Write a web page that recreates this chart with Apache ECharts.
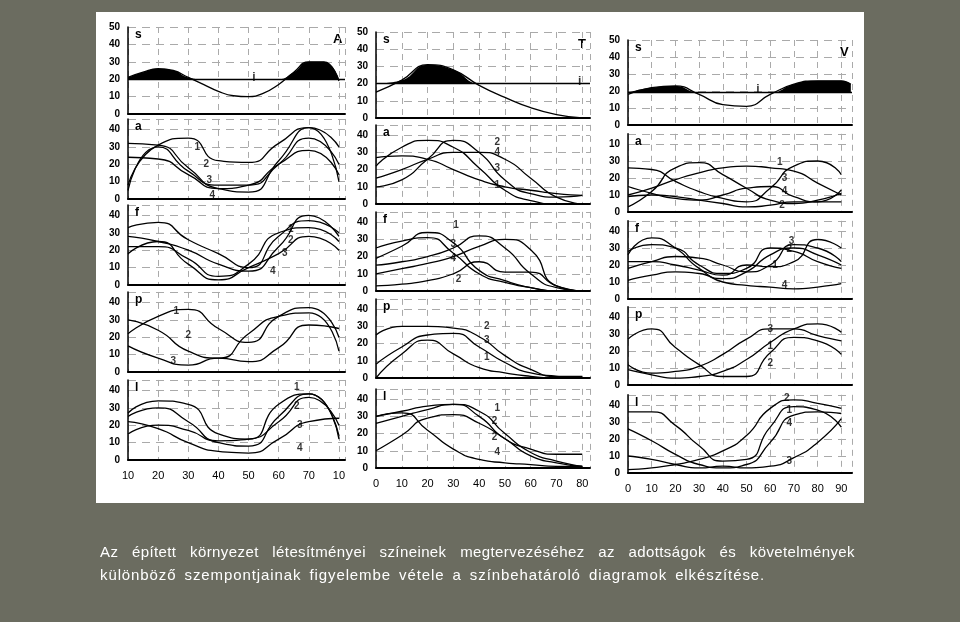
<!DOCTYPE html>
<html><head><meta charset="utf-8">
<script src="https://cdn.jsdelivr.net/npm/echarts@6/dist/echarts.min.js"></script>
<style>
body{margin:0;background:#6b6c60;width:960px;height:622px;overflow:hidden;font-family:"Liberation Sans",Arial,sans-serif;}
#paper{position:absolute;left:96px;top:12px;width:768px;height:491px;background:#fff;}
#c{position:absolute;left:0;top:0;width:960px;height:622px;}
.cap{position:absolute;left:100px;width:755px;color:#fff;font-size:15px;letter-spacing:0.4px;word-spacing:2px}
</style></head><body>
<div id="paper"></div>
<div id="c"></div>
<div class="cap" style="top:543px;text-align:justify;text-align-last:justify">Az épített környezet létesítményei színeinek megtervezéséhez az adottságok és követelmények</div>
<div class="cap" style="top:566px;letter-spacing:0.9px;word-spacing:3px">különböző szempontjainak figyelembe vétele a színbehatároló diagramok elkészítése.</div>
<script>
// ---- data ----
const xA=[10,20,30,40,50,60,70,80];
const xA5=[10,15,20,25,30,35,40,45,50,55,60,65,70,75,80];
const xT=[0,10,20,30,40,50,60,70,80];
const xV=[0,10,20,30,40,50,60,70,80,90];
const xVs=[0,10,20,30,40,50,60,70,80,90,94];
const xTickA=['10','20','30','40','50','60','70','10'];

const sA=[21,24,26,25,21,17,13,10.5,10,12,17,24,30,30,19];
const aA=[[8,31,35,22,21,32,41,30],[32,31,18,6,4,22,41,10],[5,30,16,8,8,20,35,20],[24,23,14,6,8,20,28,14]];
const fA=[[33,36,26,18,10,28,37,30],[28,25,20,12,8,22,40,28],[22,22,15,5,12,30,33,25],[18,25,12,3,10,18,28,20]];
const pA=[[22,32,36,25,17,32,37,20],[30,24,12,8,22,32,34,12],[15,8,4,8,6,14,27,25]];
const lA=[[27,34,32,15,12,32,38,12],[25,30,22,10,8,25,38,14],[15,20,17,11,12,22,36,20],[22,18,10,5,4,12,22,24]];

const sT=[15,22,31,28,19,12,6,2,0];
const aT=[[22,33,37,33,21,8,2,0,0],[10,14,26,37,30,14,6,4,5],[15,20,26,30,30,26,15,4,0],[27,28,26,20,14,10,8,6,5]];
const fT=[[25,29,31,22,10,5,2,0,0],[19,26,34,28,12,6,2,0,0],[15,17,20,25,32,25,10,2,0],[10,13,16,20,26,30,24,3,0],[3,4,6,10,17,11,11,3,0]];
const pT=[[25,30,30,29,24,13,5,1,1],[8,18,25,26,18,9,3,1,0],[0,14,22,14,6,3,1,0,0]];
const lT=[[30,33,36,37,30,17,11,8,8],[26,30,34,37,33,20,9,4,1],[10,19,29,31,26,17,7,3,1],[30,32,22,11,5,3,2,1,1]];

const sV=[18,22,23,18,12,11,18,24,26,26,24];
const aV=[[3,12,26,29,22,14,7,5,7,11],[26,25,18,12,8,6,14,27,30,22],[10,14,19,23,26,27,26,24,17,10],[15,11,8,7,10,14,15,9,6,13],[9,10,9,7,5,3,4,6,6,6]];
const fV=[[26,36,30,18,12,16,26,30,26,20],[28,32,30,20,15,18,30,28,22,18],[18,22,25,24,20,16,20,32,30,22],[11,14,16,15,10,8,7,6,7,9],[22,22,20,17,14,20,19,22,35,30]];
const pV=[[27,33,22,12,5,5,19,28,26,18],[12,7,8,11,18,27,33,33,29,26],[9,6,4,5,8,15,25,33,36,31]];
const lV=[[2,3,5,8,13,22,38,43,41,38],[36,36,28,16,7,8,27,39,37,27],[26,19,11,5,3,5,18,34,36,35],[10,8,5,3,4,3,4,9,18,32]];

// curve number labels [x,y,text]
const labA=[[[33,30,'1'],[36,20,'2'],[37,11,'3'],[38,2,'4']],[[64,32,'1'],[64,26,'2'],[62,18,'3'],[58,8,'4']],[[26,35,'1'],[30,21,'2'],[25,6,'3']],[[66,42,'1'],[66,31,'2'],[67,20,'3'],[67,7,'4']]];
const labT=[[[47,36,'2'],[47,30,'4'],[47,21,'3'],[47,11,'1']],[[31,38,'1'],[30,27,'3'],[30,19,'4'],[32,7,'2']],[[43,30,'2'],[43,22,'3'],[43,12,'1']],[[47,35,'1'],[46,27,'2'],[46,18,'2'],[47,9,'4']]];
const labV=[[[64,29,'1'],[66,20,'3'],[66,12,'4'],[65,4,'2']],[[69,34,'3'],[68,29,'2'],[62,20,'1'],[66,8,'4']],[[60,33,'3'],[60,23,'1'],[60,13,'2']],[[67,44,'2'],[68,37,'1'],[68,29,'4'],[68,7,'3']]];

const cols=[
 {x:xA,xs:xA5,s:sA,p:[aA,fA,pA,lA],lab:labA,left:128,width:217,min:10,max:82,zero:[114,199,285,372,460],sc:1.74,base:20,letter:'A',ticks:xTickA},
 {x:xT,xs:xT,s:sT,p:[aT,fT,pT,lT],lab:labT,left:376,width:214,min:0,max:83,zero:[118,204,291,378,468],sc:1.72,base:20,letter:'T',ticks:null},
 {x:xV,xs:xVs,s:sV,p:[aV,fV,pV,lV],lab:labV,left:628,width:224,min:0,max:94.5,zero:[125,212,299,385,473],sc:1.70,base:19,letter:'V',ticks:null}
];
const names=['s','a','f','p','l'];

const grids=[],xAxes=[],yAxes=[],series=[],graphic=[];
const txt={color:'#000',fontFamily:'Liberation Sans, Arial',fontWeight:'bold',fontSize:10};
cols.forEach((c,ci)=>{
  for(let k=0;k<5;k++){
    const ymax=k===0?50:46;
    const top=c.zero[k]-ymax*c.sc;
    const gi=grids.length;
    grids.push({left:c.left,width:c.width,top:top,height:ymax*c.sc});
    xAxes.push({type:'value',gridIndex:gi,min:c.min,max:c.max,interval:10,
      axisLine:{show:true,onZero:false,lineStyle:{color:'#000',width:2}},
      axisTick:{show:false},
      axisLabel:{show:k===4,...txt,fontSize:11,fontWeight:'normal',margin:10,
        formatter:v=>{if(c.ticks){const i=c.x.indexOf(v);return i>=0?c.ticks[i]:'';}return v<=90?String(v):'';}},
      splitLine:{show:true,lineStyle:{color:'#aaa',type:[6,5],width:1}}});
    yAxes.push({type:'value',gridIndex:gi,min:0,max:ymax,interval:10,
      axisLine:{show:true,lineStyle:{color:'#000',width:1.5}},axisTick:{show:false},
      axisLabel:{...txt,margin:8,formatter:v=>{ if(v>ymax-1&&k>0) return ''; if(ci===2&&k===1&&v===40) return '10'; return String(v);}},
      splitLine:{show:true,lineStyle:{color:'#aaa',type:[8,6],width:1}}});
    graphic.push({type:'text',left:c.left+7,top:top+2,style:{text:names[k],font:'bold 12px Liberation Sans',fill:'#000'}});
    if(k===0){
      graphic.push({type:'text',left:c.left+c.width-12,top:top+6,style:{text:c.letter,font:'bold 13px Liberation Sans',fill:'#000'}});
      series.push({type:'line',xAxisIndex:gi,yAxisIndex:gi,smooth:true,symbol:'none',
        data:c.xs.map((x,i)=>[x,Math.max(c.s[i],c.base)]),lineStyle:{width:0},
        areaStyle:{color:'#000',opacity:1,origin:c.base},silent:true});
      series.push({type:'line',xAxisIndex:gi,yAxisIndex:gi,smooth:true,symbol:'none',
        data:c.xs.map((x,i)=>[x,c.s[i]]),lineStyle:{color:'#000',width:1.3},
        markLine:{silent:true,symbol:'none',label:{show:false},lineStyle:{color:'#000',width:1.3,type:'solid'},data:[{yAxis:c.base}]}});
      series.push({type:'scatter',xAxisIndex:gi,yAxisIndex:gi,symbolSize:0,data:[[ci===1?c.max-4:c.min+(c.max-c.min)*0.58,21,'i']],
        label:{show:true,formatter:p=>p.data[2],...txt,fontSize:12}});
    } else {
      c.p[k-1].forEach(arr=>{
        series.push({type:'line',xAxisIndex:gi,yAxisIndex:gi,smooth:0.6,symbol:'none',
          data:c.x.map((x,i)=>[x,arr[i]]),lineStyle:{color:'#000',width:1.3}});
      });
      series.push({type:'scatter',xAxisIndex:gi,yAxisIndex:gi,symbolSize:0,data:c.lab[k-1],
        label:{show:true,formatter:p=>p.data[2],...txt,fontSize:10}});
    }
  }
});
const ch=echarts.init(document.getElementById('c'),null,{renderer:'canvas'});
ch.setOption({animation:false,backgroundColor:'transparent',grid:grids,xAxis:xAxes,yAxis:yAxes,series,graphic});
</script></body></html>
